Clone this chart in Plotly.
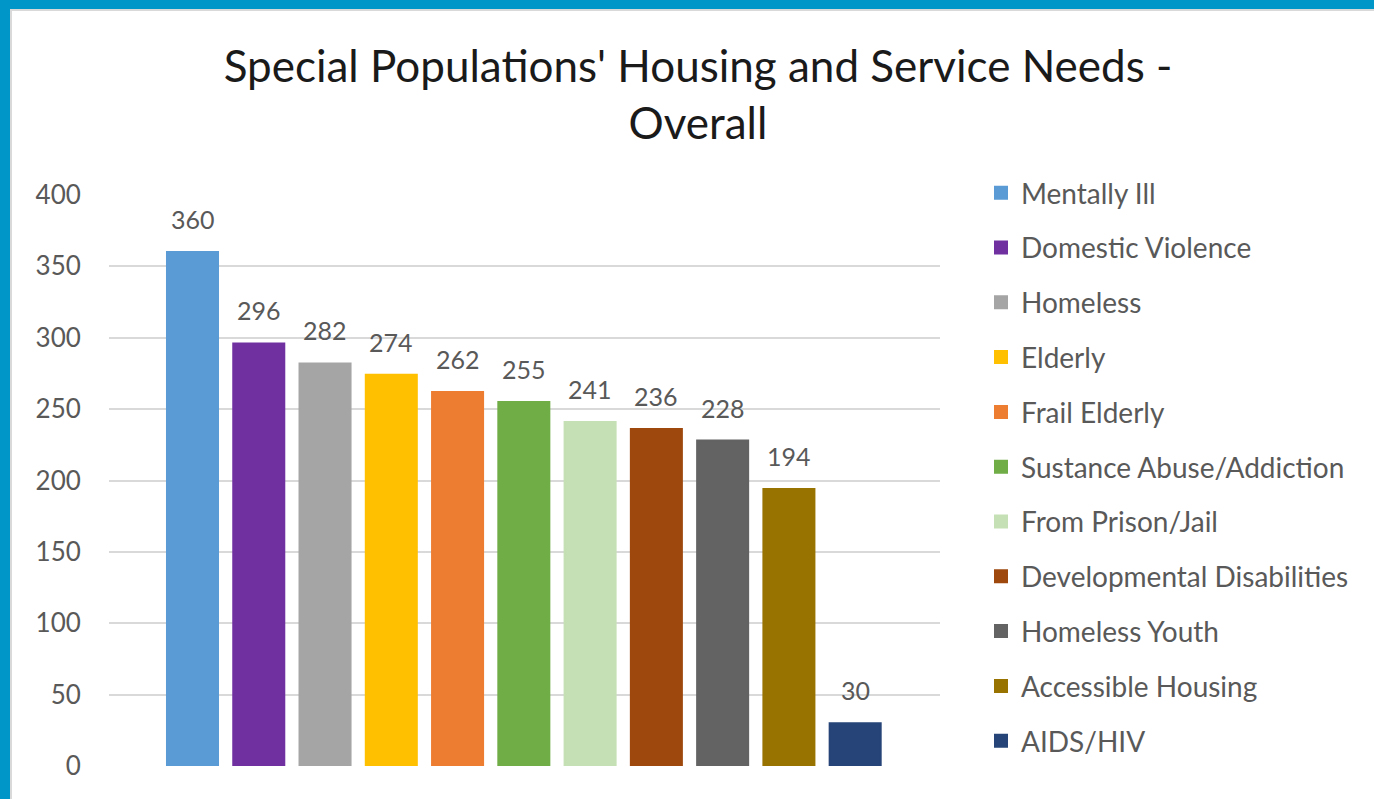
import plotly.graph_objects as go

# Survey totals by special population
populations = [
    "Mentally Ill", "Domestic Violence", "Homeless", "Elderly", "Frail Elderly",
    "Sustance Abuse/Addiction", "From Prison/Jail", "Developmental Disabilities",
    "Homeless Youth", "Accessible Housing", "AIDS/HIV",
]
responses = [360, 296, 282, 274, 262, 255, 241, 236, 228, 194, 30]
bar_colors = [
    "#5B9BD5", "#7030A0", "#A5A5A5", "#FFC000", "#ED7D31",
    "#70AD47", "#C5E0B4", "#9E480E", "#636363", "#997300", "#264478",
]
y_ticks = [0, 50, 100, 150, 200, 250, 300, 350, 400]

W, H = 1374, 799
ML, MR, MT, MB = 109, 434, 195, 33
PW, PH = W - ML - MR, H - MT - MB

FONT = "Lato"
FRAME = "#0096C8"


def px_x(v):
    return (v - ML) / PW


def px_y(v):
    return (H - MB - v) / PH


fig = go.Figure()
for name, val, col in zip(populations, responses, bar_colors):
    fig.add_trace(go.Bar(
        x=[name], y=[val], name=name, legendgroup=name,
        marker=dict(color=col, line=dict(color=col, width=2)),
        width=0.77,
    ))

# value labels above each bar
labels = [
    dict(x=name, y=val, text=str(val), showarrow=False,
         xanchor="center", yanchor="middle", yshift=33,
         font=dict(family=FONT, size=25, color="#595959"))
    for name, val in zip(populations, responses)
]

shapes = [
    # blue frame around the white panel
    dict(type="rect", xref="paper", yref="paper", layer="below",
         x0=px_x(0), x1=px_x(W), y0=px_y(H), y1=px_y(0),
         fillcolor=FRAME, line=dict(width=0)),
    dict(type="rect", xref="paper", yref="paper", layer="below",
         x0=px_x(10), x1=px_x(W + 5), y0=px_y(H + 5), y1=px_y(9),
         fillcolor="#D9D9D9", line=dict(width=0)),
    dict(type="rect", xref="paper", yref="paper", layer="below",
         x0=px_x(12), x1=px_x(W + 5), y0=px_y(H + 5), y1=px_y(11),
         fillcolor="white", line=dict(width=0)),
]

fig.update_layout(
    width=W, height=H,
    margin=dict(l=ML, r=MR, t=MT, b=MB, pad=0),
    paper_bgcolor="white", plot_bgcolor="rgba(0,0,0,0)",
    barmode="overlay",
    title=dict(
        text="Special Populations' Housing and Service Needs -<br>Overall",
        x=698 / W, xanchor="center", y=1 - 82 / H, yanchor="top",
        font=dict(family=FONT, size=44, color="#1A1A1A"),
    ),
    xaxis=dict(type="category", range=[-1.26, 11.28], showticklabels=False,
               showgrid=False, zeroline=False, showline=False, ticks=""),
    yaxis=dict(range=[0, 400], tickvals=y_ticks, showgrid=True,
               gridcolor="#D9D9D9", gridwidth=1.5, zeroline=False,
               showline=False, ticks="outside", ticklen=22,
               tickcolor="rgba(0,0,0,0)",
               tickfont=dict(family=FONT, size=26, color="#595959")),
    legend=dict(
        x=px_x(981), xanchor="left", y=px_y(168), yanchor="top",
        font=dict(family=FONT, size=28, color="#595959"),
        tracegroupgap=15.4, bgcolor="rgba(0,0,0,0)", maxheight=700,
    ),
    annotations=labels,
    shapes=shapes,
    showlegend=True,
)

fig.write_html("out.html")
